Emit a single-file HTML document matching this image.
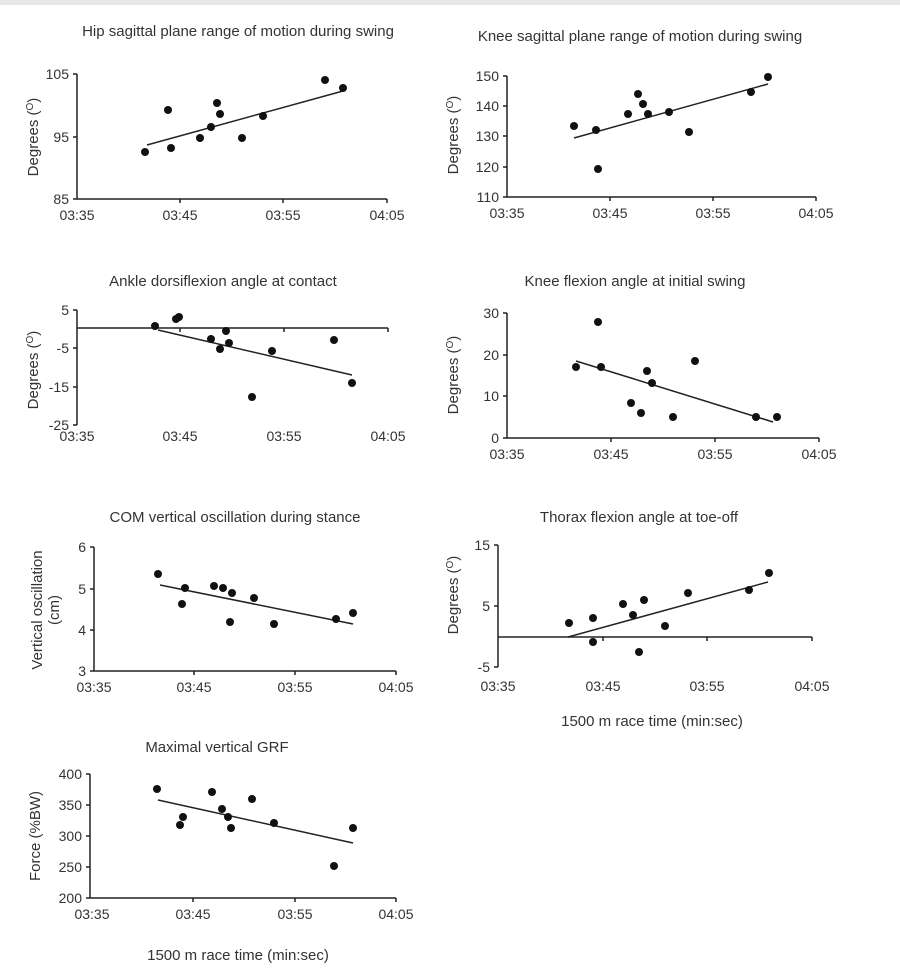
<!DOCTYPE html>
<html><head><meta charset="utf-8"><style>
html,body{margin:0;padding:0;background:#fff;}
svg{display:block;font-family:"Liberation Sans",Arial,sans-serif;fill:#333;}
text{font-size:14px;fill:#333;}
text.t{font-size:15px;}
.ax{stroke:#222;stroke-width:1.5;fill:none;}
.tr{stroke:#222;stroke-width:1.5;fill:none;}
circle{fill:#111;}
</style></head><body>
<svg width="900" height="972" viewBox="0 0 900 972">
<rect x="0" y="0" width="900" height="5" fill="#e6e6e6"/>

<!-- Chart 1 -->
<text class="t" x="238" y="36" text-anchor="middle">Hip sagittal plane range of motion during swing</text>
<path class="ax" d="M77,74 V199 H387 M73,74 H77 M73,137 H77 M73,199 H77 M180,199 v4 M283,199 v4 M387,199 v4"/>
<text x="69" y="79" text-anchor="end">105</text>
<text x="69" y="142" text-anchor="end">95</text>
<text x="69" y="204" text-anchor="end">85</text>
<g text-anchor="middle"><text x="77" y="220">03:35</text><text x="180" y="220">03:45</text><text x="283" y="220">03:55</text><text x="387" y="220">04:05</text></g>
<text class="t" transform="translate(38,137) rotate(-90)" text-anchor="middle">Degrees (<tspan font-size="10" dy="-5">O</tspan><tspan dy="5">)</tspan></text>
<line class="tr" x1="147" y1="145" x2="343" y2="91"/>
<g><circle cx="145" cy="152" r="4"/><circle cx="168" cy="110" r="4"/><circle cx="171" cy="148" r="4"/><circle cx="200" cy="138" r="4"/><circle cx="211" cy="127" r="4"/><circle cx="217" cy="103" r="4"/><circle cx="220" cy="114" r="4"/><circle cx="242" cy="138" r="4"/><circle cx="263" cy="116" r="4"/><circle cx="325" cy="80" r="4"/><circle cx="343" cy="88" r="4"/></g>

<!-- Chart 2 -->
<text class="t" x="640" y="41" text-anchor="middle">Knee sagittal plane range of motion during swing</text>
<path class="ax" d="M507,76 V197 H816 M503,76 H507 M503,106 H507 M503,136 H507 M503,167 H507 M503,197 H507 M610,197 v4 M713,197 v4 M816,197 v4"/>
<g text-anchor="end"><text x="499" y="81">150</text><text x="499" y="111">140</text><text x="499" y="141">130</text><text x="499" y="172">120</text><text x="499" y="202">110</text></g>
<g text-anchor="middle"><text x="507" y="218">03:35</text><text x="610" y="218">03:45</text><text x="713" y="218">03:55</text><text x="816" y="218">04:05</text></g>
<text class="t" transform="translate(458,135) rotate(-90)" text-anchor="middle">Degrees (<tspan font-size="10" dy="-5">O</tspan><tspan dy="5">)</tspan></text>
<line class="tr" x1="574" y1="138" x2="768" y2="84"/>
<g><circle cx="574" cy="126" r="4"/><circle cx="596" cy="130" r="4"/><circle cx="598" cy="169" r="4"/><circle cx="628" cy="114" r="4"/><circle cx="638" cy="94" r="4"/><circle cx="643" cy="104" r="4"/><circle cx="648" cy="114" r="4"/><circle cx="669" cy="112" r="4"/><circle cx="689" cy="132" r="4"/><circle cx="751" cy="92" r="4"/><circle cx="768" cy="77" r="4"/></g>

<!-- Chart 3 -->
<text class="t" x="223" y="286" text-anchor="middle">Ankle dorsiflexion angle at contact</text>
<path class="ax" d="M77,310 V425 M73,310 H77 M73,348 H77 M73,387 H77 M73,425 H77 M77,328 H388 M180,328 v4 M284,328 v4 M388,328 v4"/>
<g text-anchor="end"><text x="69" y="315">5</text><text x="69" y="353">-5</text><text x="69" y="392">-15</text><text x="69" y="430">-25</text></g>
<g text-anchor="middle"><text x="77" y="441">03:35</text><text x="180" y="441">03:45</text><text x="284" y="441">03:55</text><text x="388" y="441">04:05</text></g>
<text class="t" transform="translate(38,370) rotate(-90)" text-anchor="middle">Degrees (<tspan font-size="10" dy="-5">O</tspan><tspan dy="5">)</tspan></text>
<line class="tr" x1="158" y1="330" x2="352" y2="375"/>
<g><circle cx="155" cy="326" r="4"/><circle cx="176" cy="319" r="4"/><circle cx="179" cy="317" r="4"/><circle cx="211" cy="339" r="4"/><circle cx="220" cy="349" r="4"/><circle cx="226" cy="331" r="4"/><circle cx="229" cy="343" r="4"/><circle cx="252" cy="397" r="4"/><circle cx="272" cy="351" r="4"/><circle cx="334" cy="340" r="4"/><circle cx="352" cy="383" r="4"/></g>

<!-- Chart 4 -->
<text class="t" x="635" y="286" text-anchor="middle">Knee flexion angle at initial swing</text>
<path class="ax" d="M507,313 V438 H819 M503,313 H507 M503,355 H507 M503,396 H507 M503,438 H507 M611,438 v4 M715,438 v4 M819,438 v4"/>
<g text-anchor="end"><text x="499" y="318">30</text><text x="499" y="360">20</text><text x="499" y="401">10</text><text x="499" y="443">0</text></g>
<g text-anchor="middle"><text x="507" y="459">03:35</text><text x="611" y="459">03:45</text><text x="715" y="459">03:55</text><text x="819" y="459">04:05</text></g>
<text class="t" transform="translate(458,375) rotate(-90)" text-anchor="middle">Degrees (<tspan font-size="10" dy="-5">O</tspan><tspan dy="5">)</tspan></text>
<line class="tr" x1="576" y1="361" x2="773" y2="422"/>
<g><circle cx="576" cy="367" r="4"/><circle cx="598" cy="322" r="4"/><circle cx="601" cy="367" r="4"/><circle cx="631" cy="403" r="4"/><circle cx="641" cy="413" r="4"/><circle cx="647" cy="371" r="4"/><circle cx="652" cy="383" r="4"/><circle cx="673" cy="417" r="4"/><circle cx="695" cy="361" r="4"/><circle cx="756" cy="417" r="4"/><circle cx="777" cy="417" r="4"/></g>

<!-- Chart 5 -->
<text class="t" x="235" y="522" text-anchor="middle">COM vertical oscillation during stance</text>
<path class="ax" d="M94,547 V671 H396 M90,547 H94 M90,589 H94 M90,630 H94 M90,671 H94 M194,671 v4 M295,671 v4 M396,671 v4"/>
<g text-anchor="end"><text x="86" y="552">6</text><text x="86" y="594">5</text><text x="86" y="635">4</text><text x="86" y="676">3</text></g>
<g text-anchor="middle"><text x="94" y="692">03:35</text><text x="194" y="692">03:45</text><text x="295" y="692">03:55</text><text x="396" y="692">04:05</text></g>
<text class="t" transform="translate(42,610) rotate(-90)" text-anchor="middle">Vertical oscillation</text>
<text class="t" transform="translate(59,610) rotate(-90)" text-anchor="middle">(cm)</text>
<line class="tr" x1="160" y1="585" x2="353" y2="624"/>
<g><circle cx="158" cy="574" r="4"/><circle cx="182" cy="604" r="4"/><circle cx="185" cy="588" r="4"/><circle cx="214" cy="586" r="4"/><circle cx="223" cy="588" r="4"/><circle cx="232" cy="593" r="4"/><circle cx="230" cy="622" r="4"/><circle cx="254" cy="598" r="4"/><circle cx="274" cy="624" r="4"/><circle cx="336" cy="619" r="4"/><circle cx="353" cy="613" r="4"/></g>

<!-- Chart 6 -->
<text class="t" x="639" y="522" text-anchor="middle">Thorax flexion angle at toe-off</text>
<path class="ax" d="M498,545 V667 M494,545 H498 M494,606 H498 M494,667 H498 M498,637 H812 M603,637 v4 M707,637 v4 M812,637 v4"/>
<g text-anchor="end"><text x="490" y="550">15</text><text x="490" y="611">5</text><text x="490" y="672">-5</text></g>
<g text-anchor="middle"><text x="498" y="691">03:35</text><text x="603" y="691">03:45</text><text x="707" y="691">03:55</text><text x="812" y="691">04:05</text></g>
<text class="t" transform="translate(458,595) rotate(-90)" text-anchor="middle">Degrees (<tspan font-size="10" dy="-5">O</tspan><tspan dy="5">)</tspan></text>
<text class="t" x="652" y="726" text-anchor="middle">1500 m race time (min:sec)</text>
<line class="tr" x1="568" y1="637" x2="768" y2="582"/>
<g><circle cx="569" cy="623" r="4"/><circle cx="593" cy="642" r="4"/><circle cx="593" cy="618" r="4"/><circle cx="623" cy="604" r="4"/><circle cx="633" cy="615" r="4"/><circle cx="639" cy="652" r="4"/><circle cx="644" cy="600" r="4"/><circle cx="665" cy="626" r="4"/><circle cx="688" cy="593" r="4"/><circle cx="749" cy="590" r="4"/><circle cx="769" cy="573" r="4"/></g>

<!-- Chart 7 -->
<text class="t" x="217" y="752" text-anchor="middle">Maximal vertical GRF</text>
<path class="ax" d="M90,774 V898 H396 M86,774 H90 M86,805 H90 M86,836 H90 M86,867 H90 M86,898 H90 M193,898 v4 M295,898 v4 M396,898 v4"/>
<g text-anchor="end"><text x="82" y="779">400</text><text x="82" y="810">350</text><text x="82" y="841">300</text><text x="82" y="872">250</text><text x="82" y="903">200</text></g>
<g text-anchor="middle"><text x="92" y="919">03:35</text><text x="193" y="919">03:45</text><text x="295" y="919">03:55</text><text x="396" y="919">04:05</text></g>
<text class="t" transform="translate(40,836) rotate(-90)" text-anchor="middle">Force (%BW)</text>
<text class="t" x="238" y="960" text-anchor="middle">1500 m race time (min:sec)</text>
<line class="tr" x1="158" y1="800" x2="353" y2="843"/>
<g><circle cx="157" cy="789" r="4"/><circle cx="180" cy="825" r="4"/><circle cx="183" cy="817" r="4"/><circle cx="212" cy="792" r="4"/><circle cx="222" cy="809" r="4"/><circle cx="228" cy="817" r="4"/><circle cx="231" cy="828" r="4"/><circle cx="252" cy="799" r="4"/><circle cx="274" cy="823" r="4"/><circle cx="334" cy="866" r="4"/><circle cx="353" cy="828" r="4"/></g>
</svg>
</body></html>
